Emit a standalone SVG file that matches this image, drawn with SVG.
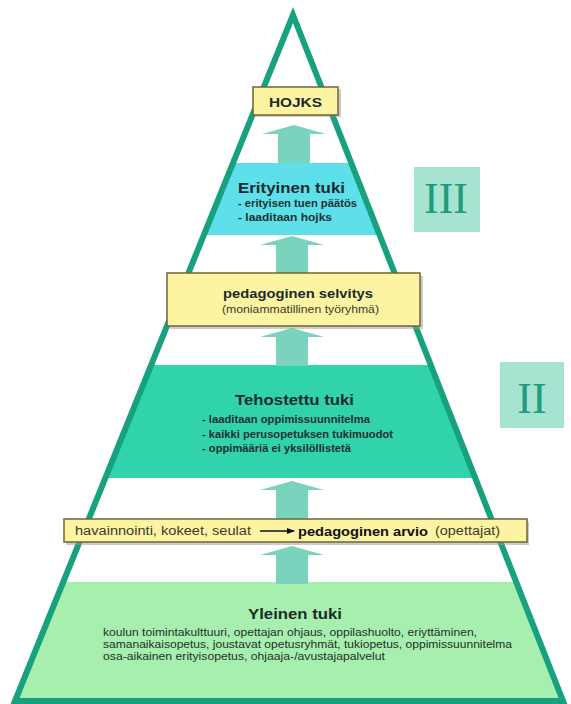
<svg xmlns="http://www.w3.org/2000/svg" width="571" height="704" viewBox="0 0 571 704">
  <style>
    text { font-family: "Liberation Sans", Arial, sans-serif; fill: #1b2b2b; }
    .title { font-size: 15px; font-weight: bold; }
    .item { font-size: 10.5px; font-weight: bold; fill: #1f3030; }
    .body { font-size: 10.5px; fill: #1f2f2a; }
    .ybox { fill: #fcf4a2; stroke: #6e6438; stroke-width: 1.5; }
    .shadow { fill: #9a9a8a; opacity: 0.5; }
    .up { fill: #79d3bd; }
    .roman { fill: #a6e3d0; }
    .numeral { font-family: "Liberation Serif", "Times New Roman", serif; font-size: 44px; fill: #1f9c7c; }
  </style>
  <defs>
    <clipPath id="pyramid">
      <polygon points="293,15 15,701 563,701"/>
    </clipPath>
    <path id="uparrow" d="M0,0 L32,9 L16,9 L16,38 L-16,38 L-16,9 L-32,9 Z"/>
    <marker id="head" markerWidth="8" markerHeight="6" refX="7" refY="3" orient="auto" markerUnits="userSpaceOnUse">
      <path d="M0,0 L8,3 L0,6 Z" fill="#111"/>
    </marker>
  </defs>

  <rect width="571" height="704" fill="#ffffff"/>

  <!-- level bands, cut to the pyramid outline -->
  <g clip-path="url(#pyramid)">
    <rect id="band-erityinen" x="0" y="163" width="571" height="72" fill="#5de0ea"/>
    <rect id="band-tehostettu" x="0" y="365" width="571" height="113" fill="#30d3aa"/>
    <rect id="band-yleinen" x="0" y="582" width="571" height="122" fill="#a7efae"/>
  </g>

  <!-- upward arrows between levels -->
  <g id="connectors">
    <use href="#uparrow" x="294" y="125" class="up"/>
    <use href="#uparrow" x="292" y="236" class="up"/>
    <use href="#uparrow" x="292" y="328" class="up"/>
    <use href="#uparrow" x="292" y="481" class="up"/>
    <use href="#uparrow" x="292" y="546" class="up"/>
  </g>

  <!-- pyramid outline -->
  <polygon points="293,15 15,701 563,701" fill="none" stroke="#17a17f" stroke-width="6" stroke-linejoin="miter"/>

  <g id="hojks">
    <rect class="shadow" x="255" y="89" width="86" height="28"/>
    <rect class="ybox" x="253" y="87" width="85" height="28"/>
    <text x="269" y="107" textLength="53" lengthAdjust="spacingAndGlyphs" style="font-size:13px;font-weight:bold">HOJKS</text>
  </g>

  <g id="erityinen-tuki">
    <text class="title" x="238" y="193" textLength="107" lengthAdjust="spacingAndGlyphs">Erityinen tuki</text>
    <text class="item" x="238" y="207" textLength="119" lengthAdjust="spacingAndGlyphs">- erityisen tuen päätös</text>
    <text class="item" x="238" y="221" textLength="94" lengthAdjust="spacingAndGlyphs">- laaditaan hojks</text>
  </g>

  <g id="level-iii">
    <rect class="roman" x="414" y="167" width="66" height="65"/>
    <text class="numeral" x="446" y="213" text-anchor="middle">III</text>
  </g>

  <g id="pedagoginen-selvitys">
    <rect class="shadow" x="170" y="276" width="253" height="53"/>
    <rect class="ybox" x="167" y="273" width="253" height="53"/>
    <text x="223" y="298" textLength="150" lengthAdjust="spacingAndGlyphs" style="font-size:12.5px;font-weight:bold">pedagoginen selvitys</text>
    <text x="222" y="313" textLength="157" lengthAdjust="spacingAndGlyphs" style="font-size:10.5px;fill:#3a3a2a">(moniammatillinen työryhmä)</text>
  </g>

  <g id="tehostettu-tuki">
    <text class="title" x="235" y="405" textLength="119" lengthAdjust="spacingAndGlyphs">Tehostettu tuki</text>
    <text class="item" x="202" y="423" textLength="168" lengthAdjust="spacingAndGlyphs">- laaditaan oppimissuunnitelma</text>
    <text class="item" x="202" y="438" textLength="191" lengthAdjust="spacingAndGlyphs">- kaikki perusopetuksen tukimuodot</text>
    <text class="item" x="202" y="452" textLength="149" lengthAdjust="spacingAndGlyphs">- oppimääriä ei yksilöllistetä</text>
  </g>

  <g id="level-ii">
    <rect class="roman" x="500" y="362" width="64" height="66"/>
    <text class="numeral" x="532" y="413" text-anchor="middle">II</text>
  </g>

  <g id="pedagoginen-arvio">
    <rect class="shadow" x="66" y="522" width="463" height="23"/>
    <rect class="ybox" x="64" y="519" width="463" height="23"/>
    <text x="75" y="535" textLength="176" lengthAdjust="spacingAndGlyphs" style="font-size:12px;fill:#3a3a2a">havainnointi, kokeet, seulat</text>
    <line x1="260" y1="531" x2="294" y2="531" stroke="#111" stroke-width="1.3" marker-end="url(#head)"/>
    <text x="298" y="536" textLength="130" lengthAdjust="spacingAndGlyphs" style="font-size:13px;font-weight:bold;fill:#111">pedagoginen arvio</text>
    <text x="435" y="535" textLength="65" lengthAdjust="spacingAndGlyphs" style="font-size:12px;fill:#3a3a2a">(opettajat)</text>
  </g>

  <g id="yleinen-tuki">
    <text class="title" x="248" y="619" textLength="94" lengthAdjust="spacingAndGlyphs">Yleinen tuki</text>
    <text class="body" x="103" y="636" textLength="374" lengthAdjust="spacingAndGlyphs">koulun toimintakulttuuri, opettajan ohjaus, oppilashuolto, eriyttäminen,</text>
    <text class="body" x="103" y="648" textLength="409" lengthAdjust="spacingAndGlyphs">samanaikaisopetus, joustavat opetusryhmät, tukiopetus, oppimissuunnitelma</text>
    <text class="body" x="103" y="660" textLength="282" lengthAdjust="spacingAndGlyphs">osa-aikainen erityisopetus, ohjaaja-/avustajapalvelut</text>
  </g>
</svg>
